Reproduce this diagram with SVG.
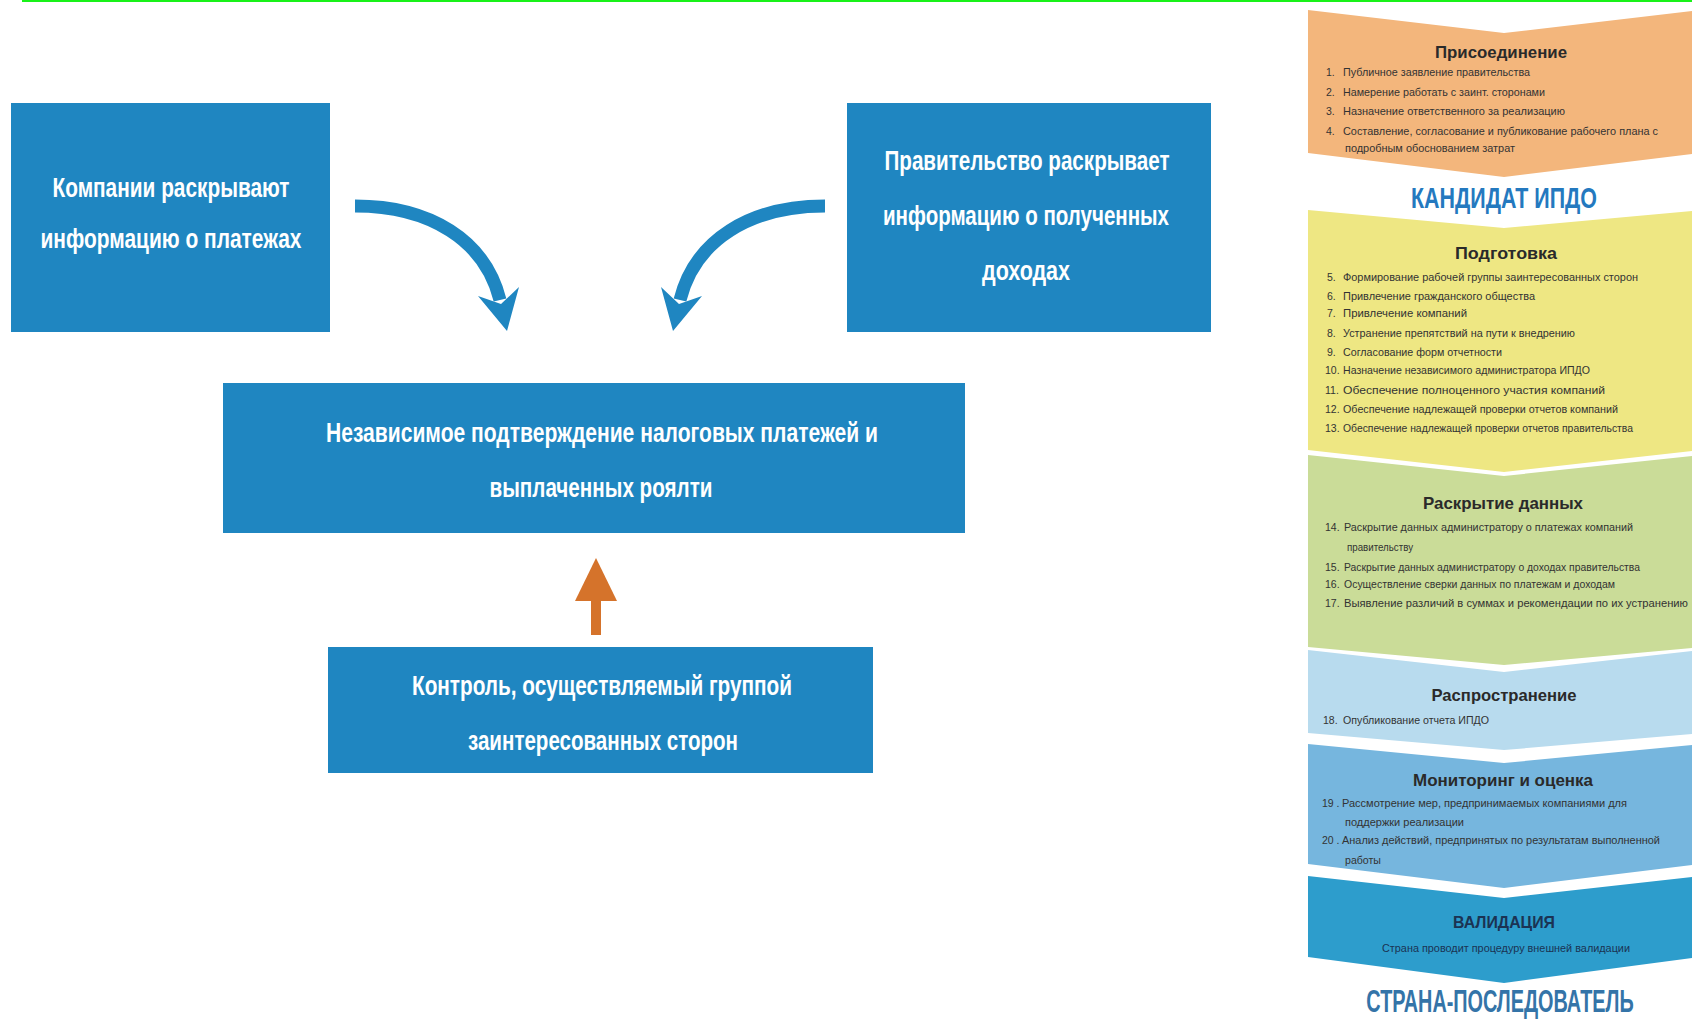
<svg xmlns="http://www.w3.org/2000/svg" width="1692" height="1023" viewBox="0 0 1692 1023">
<style>
.box{fill:#1f86c1}
.bt{font-family:"Liberation Sans",Arial,sans-serif;font-size:28px;font-weight:bold;fill:#ffffff;text-anchor:middle}
.ttl{font-family:"Liberation Sans",Arial,sans-serif;font-size:17px;font-weight:bold;fill:#2a2a2a;text-anchor:middle}
.it{font-family:"Liberation Sans",Arial,sans-serif;font-size:10.5px;fill:#333333}
.big{font-family:"Liberation Sans",Arial,sans-serif;font-weight:bold;text-anchor:middle}
.arr{fill:none;stroke:#1f86c1;stroke-width:13}
.head{fill:#1f86c1}
</style>
<rect width="1692" height="1023" fill="#ffffff"/>
<line x1="22" y1="1" x2="1692" y2="1" stroke="#19f219" stroke-width="2"/>

<g id="node-companies">
<rect class="box" x="11" y="103" width="319" height="229"/>
<text class="bt" x="171" y="197" textLength="237" lengthAdjust="spacingAndGlyphs">Компании раскрывают</text>
<text class="bt" x="171" y="248" textLength="261" lengthAdjust="spacingAndGlyphs">информацию о платежах</text>
</g>

<g id="node-government">
<rect class="box" x="847" y="103" width="364" height="229"/>
<text class="bt" x="1027" y="170" textLength="285" lengthAdjust="spacingAndGlyphs">Правительство раскрывает</text>
<text class="bt" x="1026" y="225" textLength="286" lengthAdjust="spacingAndGlyphs">информацию о полученных</text>
<text class="bt" x="1026" y="280" textLength="88" lengthAdjust="spacingAndGlyphs">доходах</text>
</g>

<g id="node-verification">
<rect class="box" x="223" y="383" width="742" height="150"/>
<text class="bt" x="602" y="442" textLength="552" lengthAdjust="spacingAndGlyphs">Независимое подтверждение налоговых платежей и</text>
<text class="bt" x="601" y="497" textLength="223" lengthAdjust="spacingAndGlyphs">выплаченных роялти</text>
</g>

<g id="node-control">
<rect class="box" x="328" y="647" width="545" height="126"/>
<text class="bt" x="602" y="695" textLength="380" lengthAdjust="spacingAndGlyphs">Контроль, осуществляемый группой</text>
<text class="bt" x="603" y="750" textLength="270" lengthAdjust="spacingAndGlyphs">заинтересованных сторон</text>
</g>

<g id="connectors">
<path class="arr" d="M355,206 C430,206 485,240 500,300"/>
<polygon class="head" points="507,331 519,287 501,304 478,296"/>
<path class="arr" d="M825,206 C750,206 695,240 680,300"/>
<polygon class="head" points="673,331 661,287 679,304 702,296"/>
<rect x="591" y="596" width="10" height="39" fill="#d5732b"/>
<polygon points="596,558 575,601 617,601" fill="#d5732b"/>
</g>

<g id="process-panel">
<g id="stage-accession">
<polygon points="1308,10 1504,33 1692,11 1692,154 1504,177 1308,153" fill="#f3b67c"/>
<text class="ttl" x="1501" y="58" textLength="132" lengthAdjust="spacingAndGlyphs">Присоединение</text>
<text class="it" x="1326" y="76">1.</text><text class="it" x="1343" y="76" textLength="187" lengthAdjust="spacingAndGlyphs">Публичное заявление правительства</text>
<text class="it" x="1326" y="96">2.</text><text class="it" x="1343" y="96" textLength="202" lengthAdjust="spacingAndGlyphs">Намерение работать с заинт. сторонами</text>
<text class="it" x="1326" y="115">3.</text><text class="it" x="1343" y="115" textLength="222" lengthAdjust="spacingAndGlyphs">Назначение ответственного за реализацию</text>
<text class="it" x="1326" y="135">4.</text><text class="it" x="1343" y="135" textLength="315" lengthAdjust="spacingAndGlyphs">Составление, согласование и публикование рабочего плана с</text>
<text class="it" x="1345" y="152" textLength="170" lengthAdjust="spacingAndGlyphs">подробным обоснованием затрат</text>
</g>

<text class="big" x="1504" y="208" font-size="30" fill="#2479bf" textLength="186" lengthAdjust="spacingAndGlyphs">КАНДИДАТ ИПДО</text>

<g id="stage-preparation">
<polygon points="1308,210 1504,228 1692,211 1692,451 1504,472 1308,450" fill="#eee783"/>
<text class="ttl" x="1506" y="259" textLength="102" lengthAdjust="spacingAndGlyphs">Подготовка</text>
<text class="it" x="1327" y="281">5.</text><text class="it" x="1343" y="281" textLength="295" lengthAdjust="spacingAndGlyphs">Формирование рабочей группы заинтересованных сторон</text>
<text class="it" x="1327" y="300">6.</text><text class="it" x="1343" y="300" textLength="192" lengthAdjust="spacingAndGlyphs">Привлечение гражданского общества</text>
<text class="it" x="1327" y="317">7.</text><text class="it" x="1343" y="317" textLength="124" lengthAdjust="spacingAndGlyphs">Привлечение компаний</text>
<text class="it" x="1327" y="337">8.</text><text class="it" x="1343" y="337" textLength="232" lengthAdjust="spacingAndGlyphs">Устранение препятствий на пути к внедрению</text>
<text class="it" x="1327" y="356">9.</text><text class="it" x="1343" y="356" textLength="159" lengthAdjust="spacingAndGlyphs">Согласование форм отчетности</text>
<text class="it" x="1325" y="374">10.</text><text class="it" x="1343" y="374" textLength="247" lengthAdjust="spacingAndGlyphs">Назначение независимого администратора ИПДО</text>
<text class="it" x="1325" y="394">11.</text><text class="it" x="1343" y="394" textLength="262" lengthAdjust="spacingAndGlyphs">Обеспечение полноценного участия компаний</text>
<text class="it" x="1325" y="413">12.</text><text class="it" x="1343" y="413" textLength="275" lengthAdjust="spacingAndGlyphs">Обеспечение надлежащей проверки отчетов компаний</text>
<text class="it" x="1325" y="432">13.</text><text class="it" x="1343" y="432" textLength="290" lengthAdjust="spacingAndGlyphs">Обеспечение надлежащей проверки отчетов правительства</text>
</g>

<g id="stage-disclosure">
<polygon points="1308,455 1504,476 1692,456 1692,648 1504,665 1308,647" fill="#cadc98"/>
<text class="ttl" x="1503" y="509" textLength="160" lengthAdjust="spacingAndGlyphs">Раскрытие данных</text>
<text class="it" x="1325" y="531">14.</text><text class="it" x="1344" y="531" textLength="289" lengthAdjust="spacingAndGlyphs">Раскрытие данных администратору о платежах компаний</text>
<text class="it" x="1347" y="551" textLength="66" lengthAdjust="spacingAndGlyphs">правительству</text>
<text class="it" x="1325" y="571">15.</text><text class="it" x="1344" y="571" textLength="296" lengthAdjust="spacingAndGlyphs">Раскрытие данных администратору о доходах правительства</text>
<text class="it" x="1325" y="588">16.</text><text class="it" x="1344" y="588" textLength="271" lengthAdjust="spacingAndGlyphs">Осуществление сверки данных по платежам и доходам</text>
<text class="it" x="1325" y="607">17.</text><text class="it" x="1344" y="607" textLength="344" lengthAdjust="spacingAndGlyphs">Выявление различий в суммах и рекомендации по их устранению</text>
</g>

<g id="stage-dissemination">
<polygon points="1308,650 1504,672 1692,651 1692,734 1504,750 1308,733" fill="#b8dbee"/>
<text class="ttl" x="1504" y="701" textLength="145" lengthAdjust="spacingAndGlyphs">Распространение</text>
<text class="it" x="1323" y="724">18.</text><text class="it" x="1343" y="724" textLength="146" lengthAdjust="spacingAndGlyphs">Опубликование отчета ИПДО</text>
</g>

<g id="stage-monitoring">
<polygon points="1308,744 1504,763 1692,745 1692,865 1504,888 1308,864" fill="#76b6de"/>
<text class="ttl" x="1503" y="786" textLength="180" lengthAdjust="spacingAndGlyphs">Мониторинг и оценка</text>
<text class="it" x="1322" y="807">19 .</text><text class="it" x="1342" y="807" textLength="285" lengthAdjust="spacingAndGlyphs">Рассмотрение мер, предпринимаемых компаниями для</text>
<text class="it" x="1345" y="826" textLength="119" lengthAdjust="spacingAndGlyphs">поддержки реализации</text>
<text class="it" x="1322" y="844">20 .</text><text class="it" x="1342" y="844" textLength="318" lengthAdjust="spacingAndGlyphs">Анализ действий, предпринятых по результатам выполненной</text>
<text class="it" x="1345" y="864" textLength="36" lengthAdjust="spacingAndGlyphs">работы</text>
</g>

<g id="stage-validation">
<polygon points="1308,876 1504,898 1692,877 1692,958 1504,983 1308,957" fill="#2d9dcc"/>
<text class="ttl" x="1504" y="928" style="fill:#1b3353" textLength="102" lengthAdjust="spacingAndGlyphs">ВАЛИДАЦИЯ</text>
<text class="it" x="1382" y="952" style="fill:#1b3353" textLength="248" lengthAdjust="spacingAndGlyphs">Страна проводит процедуру внешней валидации</text>
</g>

<text class="big" transform="translate(1500,1012) scale(0.64,1)" x="0" y="0" font-size="31" fill="#3474a8">СТРАНА-ПОСЛЕДОВАТЕЛЬ</text>
</g>
</svg>
